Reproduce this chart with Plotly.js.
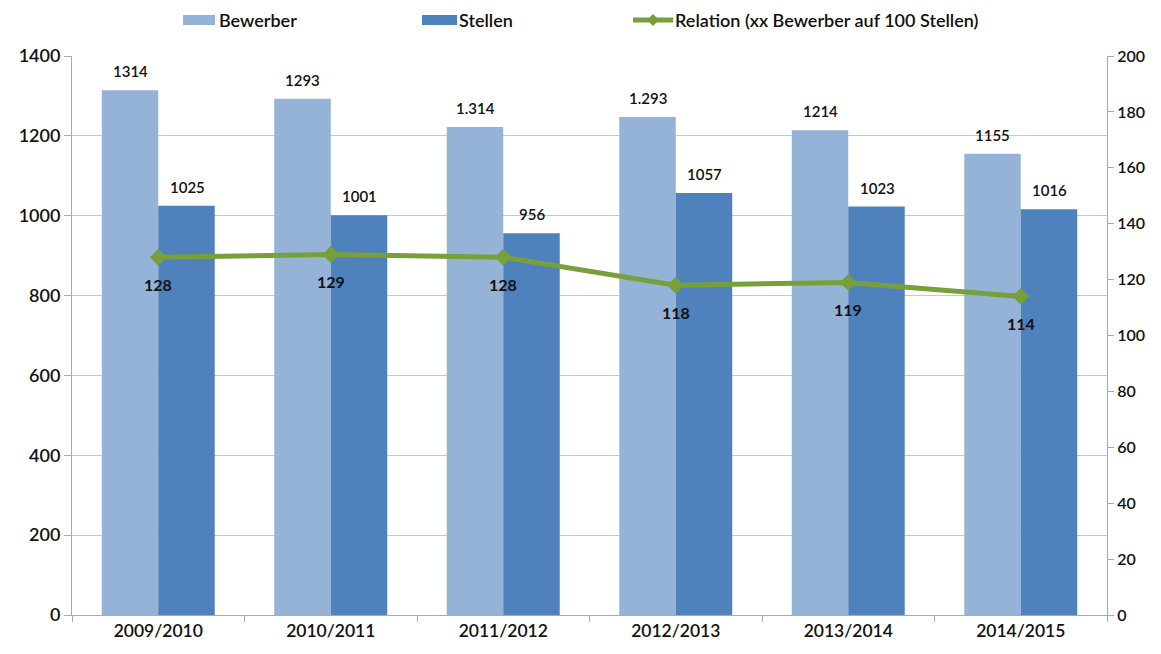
<!DOCTYPE html>
<html>
<head>
<meta charset="utf-8">
<script src="https://cdn.plot.ly/plotly-3.0.1.min.js"></script>
<style>html,body{margin:0;padding:0;background:#fff;}#chart{width:1161px;height:654px;}</style>
</head>
<body>
<div id="chart"></div>
<script>
const categories = ["2009/2010", "2010/2011", "2011/2012", "2012/2013", "2013/2014", "2014/2015"];
const bewerber = [1314, 1293, 1222, 1247, 1214, 1155];
const bewerberLabels = ["1314", "1293", "1.314", "1.293", "1214", "1155"];
const stellen = [1025, 1001, 956, 1057, 1023, 1016];
const stellenLabels = ["1025", "1001", "956", "1057", "1023", "1016"];
const relation = [128, 129, 128, 118, 119, 114];
const relationLabels = ["128", "129", "128", "118", "119", "114"];
const leftTicks = [0, 200, 400, 600, 800, 1000, 1200, 1400];
const rightTicks = [0, 20, 40, 60, 80, 100, 120, 140, 160, 180, 200];
const seriesNames = ["Bewerber", "Stellen", "Relation (xx Bewerber auf 100 Stellen)"];

const FONT = "Lato, 'Open Sans', sans-serif";
const labelFont = {family: FONT, size: 15, color: "#111", weight: 600};
const C_BEW = "#95B3D7", C_STE = "#4F81BD", C_REL = "#78A03A";

// plot area geometry (pixels)
const W = 1161, H = 654, ML = 72, MR = 54, MT = 56, MB = 39;
const PW = W - ML - MR, PH = H - MT - MB;
const px = v => (v - ML) / PW;
const py = v => (H - MB - v) / PH;

const traces = [
  {type: "bar", name: seriesNames[0], x: categories, y: bewerber, marker: {color: C_BEW}, hoverinfo: "none"},
  {type: "bar", name: seriesNames[1], x: categories, y: stellen, marker: {color: C_STE}, hoverinfo: "none"},
  {type: "scatter", mode: "lines+markers", name: seriesNames[2], x: categories, y: relation, yaxis: "y2",
   line: {color: C_REL, width: 5}, marker: {symbol: "diamond", size: 13, color: C_REL}, hoverinfo: "none"}
];

const annotations = [];
categories.forEach((c, i) => {
  annotations.push({x: c, y: bewerber[i], xref: "x", yref: "y", text: bewerberLabels[i], showarrow: false, xshift: -28, yshift: 19, font: labelFont});
  annotations.push({x: c, y: stellen[i], xref: "x", yref: "y", text: stellenLabels[i], showarrow: false, xshift: 29, yshift: 19, font: labelFont});
  annotations.push({x: c, y: relation[i], xref: "x", yref: "y2", text: relationLabels[i], showarrow: false, xshift: 0, yshift: -27, font: {family: FONT, size: 16, color: "#111", weight: "bold"}});
});

// custom legend (wide swatches like the original)
const legendFont = {family: FONT, size: 18, color: "#111", weight: 600};
const legY = 20;
const shapes = [
  {type: "rect", xref: "paper", yref: "paper", x0: px(183), x1: px(215), y0: py(legY + 5), y1: py(legY - 5), fillcolor: C_BEW, line: {width: 0}},
  {type: "rect", xref: "paper", yref: "paper", x0: px(422), x1: px(457), y0: py(legY + 5), y1: py(legY - 5), fillcolor: C_STE, line: {width: 0}},
  {type: "line", xref: "paper", yref: "paper", x0: px(633), x1: px(673), y0: py(legY), y1: py(legY), line: {color: C_REL, width: 5}},
  {type: "path", xref: "paper", yref: "paper",
   path: `M ${px(653)} ${py(legY - 6)} L ${px(659)} ${py(legY)} L ${px(653)} ${py(legY + 6)} L ${px(647)} ${py(legY)} Z`,
   fillcolor: C_REL, line: {width: 0}}
];
annotations.push({xref: "paper", yref: "paper", x: px(217), y: py(legY), xanchor: "left", yanchor: "middle", text: seriesNames[0], showarrow: false, font: legendFont});
annotations.push({xref: "paper", yref: "paper", x: px(457), y: py(legY), xanchor: "left", yanchor: "middle", text: seriesNames[1], showarrow: false, font: legendFont});
annotations.push({xref: "paper", yref: "paper", x: px(673), y: py(legY), xanchor: "left", yanchor: "middle", text: seriesNames[2], showarrow: false, font: legendFont});

const layout = {
  width: W, height: H,
  margin: {l: ML, r: MR, t: MT, b: MB},
  paper_bgcolor: "#fff", plot_bgcolor: "#fff",
  barmode: "group", bargap: 0.345, bargroupgap: 0,
  showlegend: false,
  font: {family: FONT, color: "#111"},
  xaxis: {type: "category", tickson: "boundaries", ticks: "outside", ticklen: 6, tickcolor: "#aaa",
          showline: true, linecolor: "#aaa", linewidth: 1, showgrid: false,
          tickfont: {family: FONT, size: 17.5, color: "#111", weight: 600}},
  yaxis: {range: [0, 1400], tickvals: leftTicks, ticks: "outside", ticklen: 7, tickcolor: "#aaa",
          showline: true, linecolor: "#aaa", gridcolor: "#c8c8c8", gridwidth: 1, zeroline: false,
          tickfont: {family: FONT, size: 18, color: "#111", weight: 600}},
  yaxis2: {range: [0, 200], tickvals: rightTicks, overlaying: "y", side: "right", ticks: "outside", ticklen: 6, tickcolor: "#aaa",
           showline: true, linecolor: "#aaa", showgrid: false, zeroline: false,
           tickfont: {family: FONT, size: 16, color: "#111", weight: 600}},
  shapes: shapes,
  annotations: annotations
};

Plotly.newPlot("chart", traces, layout, {displayModeBar: false, staticPlot: true});
</script>
</body>
</html>
